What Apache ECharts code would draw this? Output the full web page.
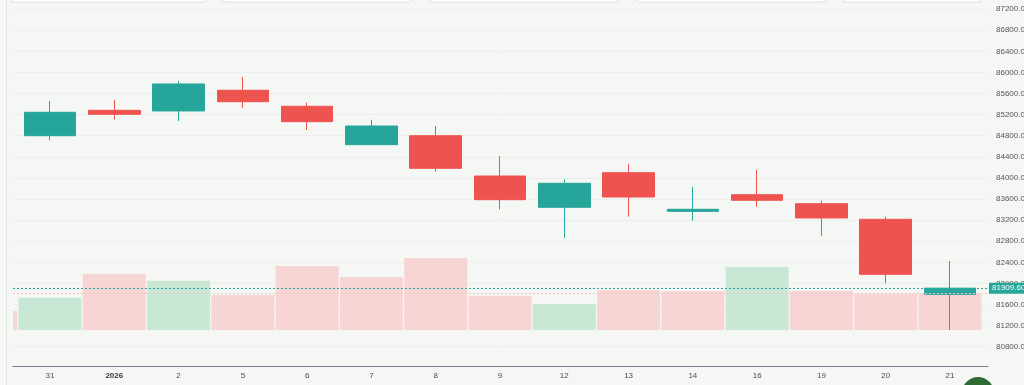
<!DOCTYPE html>
<html>
<head>
<meta charset="utf-8">
<script src="https://cdn.jsdelivr.net/npm/echarts@6/dist/echarts.min.js"></script>
<style>
html,body{margin:0;padding:0;background:#f5f7f5;}
#c{width:1024px;height:385px;}
</style>
</head>
<body>
<div id="c"></div>
<script>
// Day labels (index 0 = 30 Dec, only its volume bar edge is visible)
const days = ['30','31','2026','2','5','6','7','8','9','12','13','14','16','19','20','21'];
const openP  = [null, 84800, 85282, 85269, 85661, 85358, 84630, 84800, 84036, 83443, 84099, 83367, 83682, 83511, 83215, 81793];
const closeP = [null, 85244, 85206, 85781, 85445, 85066, 84984, 84182, 83587, 83898, 83638, 83405, 83576, 83240, 82172, 81909.6];
const lowP   = [null, 84713, 85104, 85079, 85331, 84908, 84630, 84118, 83405, 82866, 83265, 83189, 83454, 82899, 82002, 81117];
const highP  = [null, 85458, 85477, 85837, 85913, 85426, 85098, 84984, 84415, 83974, 84269, 83828, 84150, 83568, 83265, 82425];
const volume = [19.3, 32.3, 56.3, 49.3, 35, 64, 53, 72, 34.3, 26, 40, 39, 63, 39.3, 36.3, 36.7];
const volumeUp = [false, true, false, true, false, false, false, false, false, true, false, false, true, false, false, false];
const priceTicks = [80800, 81200, 81600, 82000, 82400, 82800, 83200, 83600, 84000, 84400, 84800, 85200, 85600, 86000, 86400, 86800, 87200];
const lastPrice = 81909.6;

const UP = '#26a69a', DOWN = '#ef5350';
const VOL_UP = '#c9e7d5', VOL_DOWN = '#f7d5d4';
const BG = '#f5f7f5';
const FONT = 'Liberation Sans, Arial, sans-serif';

const candleData = [];
days.forEach((d, i) => {
  if (openP[i] != null) candleData.push([i, openP[i], closeP[i], lowP[i], highP[i]]);
});
const volData = days.map((d, i) => ({
  value: [i, volume[i]],
  itemStyle: { color: volumeUp[i] ? VOL_UP : VOL_DOWN }
}));
const labelIdx = days.map((d, i) => i).slice(1);

const chart = echarts.init(document.getElementById('c'), null, { renderer: 'canvas' });
chart.setOption({
  animation: false,
  backgroundColor: BG,
  textStyle: { fontFamily: FONT },
  grid: [
    { left: 13, right: 36, top: 0, bottom: 19, containLabel: false, outerBoundsMode: 'none' },
    { left: 13, right: 36, top: 230, bottom: 55, containLabel: false, outerBoundsMode: 'none' }
  ],
  xAxis: [
    {
      type: 'value', gridIndex: 0, min: 0.4244, max: 15.591,
      axisLine: { show: true, lineStyle: { color: '#787b86', width: 1 } },
      axisTick: { show: false, customValues: labelIdx },
      splitLine: { show: false },
      axisLabel: {
        customValues: labelIdx, margin: 6, fontSize: 8, color: '#4a4a4a', fontFamily: FONT,
        formatter: v => days[Math.round(v)] === '2026' ? '{b|2026}' : days[Math.round(v)],
        rich: { b: { fontWeight: 'bold', fontSize: 8, color: '#3a3a3a', fontFamily: FONT } }
      }
    },
    {
      type: 'value', gridIndex: 1, min: 0.4244, max: 15.591, show: false
    }
  ],
  yAxis: [
    {
      type: 'value', gridIndex: 0, position: 'right', min: 80434, max: 87373,
      axisLine: { show: false },
      axisTick: { show: false, customValues: priceTicks },
      splitLine: { show: true, lineStyle: { color: '#eceeec', width: 1 } },
      axisLabel: {
        customValues: priceTicks, margin: 8, fontSize: 8, color: '#555', fontFamily: FONT,
        formatter: v => v.toFixed(2)
      }
    },
    {
      type: 'value', gridIndex: 1, min: 0, max: 100, show: false
    }
  ],
  series: [
    {
      type: 'bar', xAxisIndex: 1, yAxisIndex: 1, barWidth: 63, clip: true,
      data: volData,
      markLine: {
        silent: true, symbol: 'none',
        lineStyle: { color: '#f0c8c8', type: [2, 2], width: 1 },
        label: { show: false },
        data: [{ yAxis: volume[volume.length - 1] }]
      }
    },
    {
      type: 'candlestick', xAxisIndex: 0, yAxisIndex: 0, barWidth: 52,
      data: candleData,
      itemStyle: { color: UP, color0: DOWN, borderColor: UP, borderColor0: DOWN, borderWidth: 1 },
      markLine: {
        silent: true, symbol: 'none',
        lineStyle: { color: UP, type: [2, 2], width: 1 },
        label: {
          show: true, position: 'end', distance: 1,
          formatter: () => lastPrice.toFixed(2),
          backgroundColor: UP, color: '#fff', fontSize: 8, fontFamily: FONT,
          padding: [2, 3, 1, 3]
        },
        data: [{ yAxis: lastPrice }]
      }
    }
  ],
  graphic: [
    // mask left of the plot area (the volume bar series is not clipped there)
    { type: 'rect', z: 100, shape: { x: 0, y: 200, width: 13, height: 140 }, style: { fill: BG }, silent: true },
    { type: 'rect', z: 101, shape: { x: 10, y: -10, width: 197, height: 12, r: 4 }, style: { fill: '#fff', stroke: '#dfe2df', lineWidth: 1 }, silent: true },
    { type: 'rect', z: 101, shape: { x: 221, y: -10, width: 192, height: 12, r: 4 }, style: { fill: '#fff', stroke: '#dfe2df', lineWidth: 1 }, silent: true },
    { type: 'rect', z: 101, shape: { x: 428, y: -10, width: 192, height: 12, r: 4 }, style: { fill: '#fff', stroke: '#dfe2df', lineWidth: 1 }, silent: true },
    { type: 'rect', z: 101, shape: { x: 635, y: -10, width: 192, height: 12, r: 4 }, style: { fill: '#fff', stroke: '#dfe2df', lineWidth: 1 }, silent: true },
    { type: 'rect', z: 101, shape: { x: 842, y: -10, width: 140, height: 12, r: 4 }, style: { fill: '#fff', stroke: '#dfe2df', lineWidth: 1 }, silent: true },
    { type: 'line', z: 101, shape: { x1: 6.5, y1: 0, x2: 6.5, y2: 385 }, style: { stroke: '#e4e7e4', lineWidth: 1 }, silent: true },
    { type: 'circle', z: 101, shape: { cx: 978, cy: 393, r: 16 }, style: { fill: '#2e6b34' }, silent: true }
  ]
});
</script>
</body>
</html>
